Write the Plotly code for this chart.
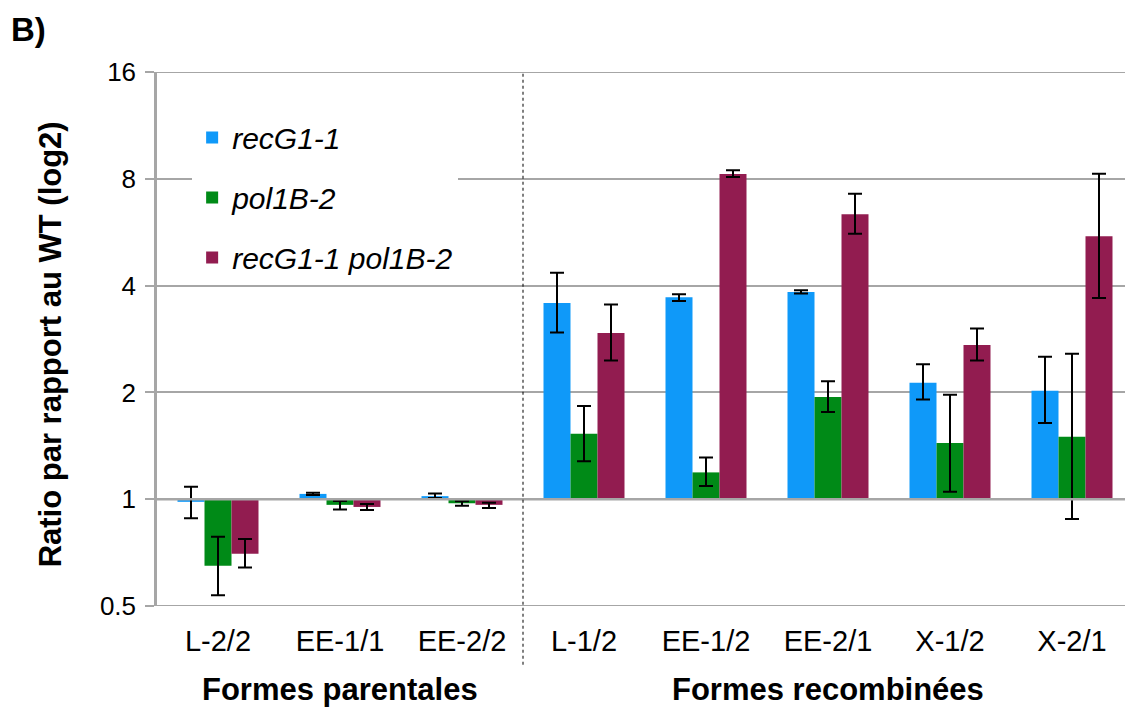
import plotly.graph_objects as go

categories = ["L-2/2", "EE-1/1", "EE-2/2", "L-1/2", "EE-1/2", "EE-2/1", "X-1/2", "X-2/1"]
series_names = ["recG1-1", "pol1B-2", "recG1-1 pol1B-2"]

recg_vals = [0.983, 1.035, 1.020, 3.57, 3.71, 3.84, 2.13, 2.02]
recg_hi = [1.084, 1.042, 1.037, 4.35, 3.78, 3.88, 2.40, 2.52]
recg_lo = [0.884, 1.028, 1.008, 2.95, 3.62, 3.80, 1.91, 1.64]

pol_vals = [0.649, 0.964, 0.974, 1.53, 1.19, 1.94, 1.44, 1.50]
pol_hi = [0.784, 0.989, 0.987, 1.83, 1.31, 2.15, 1.97, 2.57]
pol_lo = [0.536, 0.935, 0.959, 1.28, 1.09, 1.76, 1.05, 0.88]

dbl_vals = [0.702, 0.951, 0.964, 2.94, 8.25, 6.36, 2.72, 5.51]
dbl_hi = [0.772, 0.970, 0.977, 3.54, 8.46, 7.26, 3.03, 8.26]
dbl_lo = [0.642, 0.933, 0.945, 2.46, 8.10, 5.60, 2.46, 3.69]

y_ticks = [0.5, 1, 2, 4, 8, 16]
y_tick_labels = ["0.5", "1", "2", "4", "8", "16"]
group_labels = ["Formes parentales", "Formes recombinées"]

colors = ["#0F99F9", "#008A17", "#921C50"]
FONT = "Arial, Liberation Sans, sans-serif"
GRID = "#A6A6A6"

fig = go.Figure()
all_series = [(recg_vals, recg_hi, recg_lo), (pol_vals, pol_hi, pol_lo), (dbl_vals, dbl_hi, dbl_lo)]
for i, (vals, hi, lo) in enumerate(all_series):
    fig.add_trace(go.Bar(
        x=categories,
        y=[v - 1 for v in vals],
        base=[1] * len(vals),
        name=series_names[i],
        legendgroup=series_names[i],
        marker=dict(color=colors[i], line=dict(width=0)),
        error_y=dict(type="data", symmetric=False,
                     array=[h - v for h, v in zip(hi, vals)],
                     arrayminus=[v - l for v, l in zip(vals, lo)],
                     color="black", thickness=2, width=7),
    ))

shapes = []
# baseline at 1
shapes.append(dict(type="line", xref="paper", yref="y", x0=0, x1=1, y0=1, y1=1,
                   line=dict(color=GRID, width=2.5), layer="above"))
for yv in [0.5, 16]:
    shapes.append(dict(type="line", xref="paper", yref="y", x0=0, x1=1, y0=yv, y1=yv,
                       line=dict(color=GRID, width=2), layer="below"))
# tick marks along baseline at category boundaries
for k in range(len(categories)):
    shapes.append(dict(type="line", xref="x", yref="y", x0=k + 0.5, x1=k + 0.5,
                       ysizemode="pixel", yanchor=1, y0=0, y1=-8,
                       line=dict(color=GRID, width=2), layer="above"))
# dashed separator
shapes.append(dict(type="line", xref="x", yref="paper", x0=2.5, x1=2.5, y0=-0.11, y1=1,
                   line=dict(color="black", width=1, dash="dot"), layer="above"))

annotations = [
    dict(text="<b>B)</b>", xref="paper", yref="paper", x=-0.152, y=1.079,
         xanchor="left", yanchor="middle", showarrow=False,
         font=dict(family=FONT, size=33, color="black")),
    dict(text="<b>Ratio par rapport au WT (log2)</b>", xref="paper", yref="paper",
         x=-0.1096, y=0.49, textangle=-90, xanchor="center", yanchor="middle",
         showarrow=False, font=dict(family=FONT, size=31, color="black")),
    dict(text="<b>" + group_labels[0] + "</b>", xref="x", yref="paper", x=1, y=-0.157,
         xanchor="center", yanchor="middle", showarrow=False,
         font=dict(family=FONT, size=31, color="black")),
    dict(text="<b>" + group_labels[1] + "</b>", xref="x", yref="paper", x=5, y=-0.157,
         xanchor="center", yanchor="middle", showarrow=False,
         font=dict(family=FONT, size=31, color="black")),
]

# The page body has an 8px margin, so the figure is sized/positioned to compensate.
fig.update_layout(
    width=1125, height=701,
    margin=dict(l=149, r=0, t=64, b=103),
    paper_bgcolor="white", plot_bgcolor="white",
    barmode="group", bargap=0.336, bargroupgap=0,
    font=dict(family=FONT, color="black"),
    showlegend=True,
    legend=dict(x=0.036, y=0.926, xanchor="left", yanchor="top",
                bgcolor="white", traceorder="grouped", tracegroupgap=18,
                font=dict(family=FONT, size=30, style="italic", color="black"),
                borderwidth=0),
    shapes=shapes,
    annotations=annotations,
    xaxis=dict(type="category", showgrid=False, showline=False, ticks="",
               tickfont=dict(family=FONT, size=29, color="black"),
               ticklabelstandoff=15, range=[-0.5, 7.5], fixedrange=True),
    yaxis=dict(type="log", range=[-0.30103, 1.20412],
               tickvals=y_ticks, ticktext=y_tick_labels,
               showgrid=True, gridcolor=GRID, gridwidth=2,
               showline=True, linecolor=GRID, linewidth=2.5,
               ticks="outside", ticklen=9, tickwidth=2, tickcolor=GRID,
               tickfont=dict(family=FONT, size=26, color="black"),
               ticklabelstandoff=4, zeroline=False),
)

fig.write_html("out.html")
